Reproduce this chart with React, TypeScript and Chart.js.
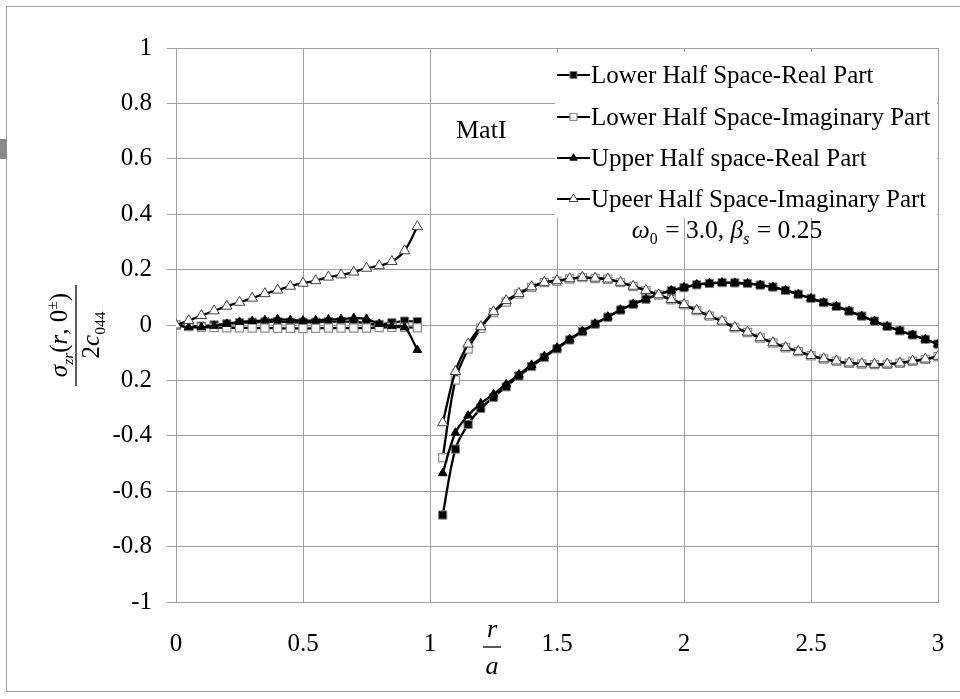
import React, { useEffect, useRef } from 'react';
import { Chart, registerables } from 'chart.js';

Chart.register(...registerables);

// ---------- data ----------
const xLeft = [0, 0.05, 0.1, 0.15, 0.2, 0.25, 0.3, 0.35, 0.4, 0.45, 0.5, 0.55, 0.6, 0.65, 0.7, 0.75, 0.8, 0.85, 0.9, 0.95];
const xRight = [1.05, 1.1, 1.15, 1.2, 1.25, 1.3, 1.35, 1.4, 1.45, 1.5, 1.55, 1.6, 1.65, 1.7, 1.75, 1.8, 1.85, 1.9, 1.95, 2.0,
  2.05, 2.1, 2.15, 2.2, 2.25, 2.3, 2.35, 2.4, 2.45, 2.5, 2.55, 2.6, 2.65, 2.7, 2.75, 2.8, 2.85, 2.9, 2.95, 3.0];

const lowerRealLeft = [0, -0.004, -0.004, 0, 0.004, 0.008, 0.01, 0.011, 0.012, 0.01, 0.01, 0.01, 0.012, 0.012, 0.012, 0.006, 0.002, 0.008, 0.014, 0.012];
const lowerImagLeft = [0, -0.006, -0.008, -0.009, -0.01, -0.01, -0.011, -0.011, -0.012, -0.012, -0.013, -0.012, -0.011, -0.011, -0.011, -0.011, -0.009, -0.008, -0.008, -0.01];
const upperRealLeft = [0, -0.008, -0.008, -0.003, 0.004, 0.011, 0.014, 0.017, 0.021, 0.018, 0.016, 0.017, 0.02, 0.021, 0.025, 0.022, 0.004, -0.004, -0.008, -0.09];
const upperImagLeft = [0, 0.016, 0.034, 0.051, 0.068, 0.082, 0.097, 0.113, 0.126, 0.14, 0.151, 0.16, 0.173, 0.181, 0.191, 0.205, 0.214, 0.229, 0.268, 0.355];

const lowerRealRight = [-0.686, -0.448, -0.359, -0.301, -0.261, -0.223, -0.184, -0.15, -0.117, -0.086, -0.054, -0.024, 0.003, 0.028, 0.054, 0.075, 0.093, 0.11, 0.124, 0.135,
  0.145, 0.15, 0.153, 0.152, 0.15, 0.144, 0.137, 0.125, 0.111, 0.096, 0.081, 0.067, 0.05, 0.032, 0.014, -0.005, -0.021, -0.036, -0.052, -0.069];
const upperRealRight = [-0.535, -0.389, -0.327, -0.283, -0.25, -0.214, -0.179, -0.144, -0.113, -0.082, -0.051, -0.022, 0.005, 0.03, 0.055, 0.076, 0.094, 0.111, 0.125, 0.136,
  0.146, 0.151, 0.153, 0.152, 0.15, 0.144, 0.137, 0.125, 0.111, 0.096, 0.081, 0.067, 0.05, 0.032, 0.014, -0.005, -0.021, -0.036, -0.052, -0.069];
const lowerImagRight = [-0.479, -0.199, -0.087, -0.012, 0.045, 0.083, 0.112, 0.136, 0.153, 0.158, 0.166, 0.171, 0.168, 0.165, 0.153, 0.139, 0.124, 0.108, 0.091, 0.073,
  0.052, 0.032, 0.013, -0.01, -0.027, -0.047, -0.065, -0.082, -0.096, -0.111, -0.123, -0.131, -0.138, -0.141, -0.143, -0.142, -0.138, -0.131, -0.124, -0.114];
const upperImagRight = [-0.353, -0.168, -0.069, -0.006, 0.048, 0.088, 0.114, 0.138, 0.154, 0.16, 0.167, 0.172, 0.169, 0.166, 0.154, 0.14, 0.125, 0.109, 0.092, 0.074,
  0.053, 0.033, 0.014, -0.009, -0.026, -0.046, -0.064, -0.081, -0.095, -0.11, -0.122, -0.13, -0.137, -0.14, -0.142, -0.141, -0.137, -0.13, -0.123, -0.113];

const seriesLabels = [
  'Lower Half Space-Real Part',
  'Lower Half Space-Imaginary Part',
  'Upper Half space-Real Part',
  'Upeer Half Space-Imaginary Part',
];

const xTickLabels = ['0', '0.5', '1', '1.5', '2', '2.5', '3'];
const yTickLabels = ['-1', '-0.8', '-0.6', '-0.4', '0.2', '0', '0.2', '0.4', '0.6', '0.8', '1'];

const annotationText = 'MatI';

// ---------- helpers ----------
const FONT = "'Liberation Serif', 'Times New Roman', serif";

type Run = { t: string; it?: boolean; sub?: boolean; sup?: boolean; gap?: number };

function runsWidth(ctx: CanvasRenderingContext2D, runs: Run[], size: number) {
  let w = 0;
  for (const r of runs) {
    const s = r.sub || r.sup ? size * 0.62 : size;
    ctx.font = `${r.it ? 'italic ' : ''}${s}px ${FONT}`;
    w += ctx.measureText(r.t).width + (r.gap || 0);
  }
  return w;
}

function drawRuns(ctx: CanvasRenderingContext2D, runs: Run[], x: number, y: number, size: number, center: boolean) {
  const w = runsWidth(ctx, runs, size);
  let cx = center ? x - w / 2 : x;
  ctx.textAlign = 'left';
  ctx.textBaseline = 'alphabetic';
  ctx.fillStyle = '#000';
  for (const r of runs) {
    const s = r.sub || r.sup ? size * 0.62 : size;
    ctx.font = `${r.it ? 'italic ' : ''}${s}px ${FONT}`;
    const dy = r.sub ? size * 0.22 : r.sup ? -size * 0.4 : 0;
    ctx.fillText(r.t, cx, y + dy);
    cx += ctx.measureText(r.t).width + (r.gap || 0);
  }
  return w;
}

function drawMarker(ctx: CanvasRenderingContext2D, style: string, x: number, y: number, r: number, fill: string, stroke: string, lw: number) {
  ctx.save();
  ctx.beginPath();
  if (style === 'rect') {
    const s = Math.SQRT1_2 * r;
    ctx.rect(x - s, y - s, 2 * s, 2 * s);
  } else {
    const h = r * 1.5;
    const half = r * Math.sqrt(3) / 2;
    ctx.moveTo(x, y - r);
    ctx.lineTo(x + half, y - r + h);
    ctx.lineTo(x - half, y - r + h);
    ctx.closePath();
  }
  ctx.fillStyle = fill;
  ctx.fill();
  ctx.lineWidth = lw;
  ctx.strokeStyle = stroke;
  ctx.stroke();
  ctx.restore();
}

function buildPoints(left: number[], right: number[]) {
  const pts: { x: number; y: number | null }[] = [];
  left.forEach((v, i) => pts.push({ x: xLeft[i], y: v }));
  pts.push({ x: 1, y: null });
  right.forEach((v, i) => pts.push({ x: xRight[i], y: v }));
  return pts;
}

const styles = [
  { pointStyle: 'rect', radius: 5.8, bg: '#000000', border: '#808080', bw: 1 },
  { pointStyle: 'rect', radius: 5.8, bg: '#ffffff', border: '#8c8c8c', bw: 1.2 },
  { pointStyle: 'triangle', radius: 5, bg: '#000000', border: '#000000', bw: 1 },
  { pointStyle: 'triangle', radius: 6, bg: '#ffffff', border: '#404040', bw: 1 },
];

const decorPlugin = {
  id: 'decor',
  beforeDraw(chart: any) {
    const ctx = chart.ctx as CanvasRenderingContext2D;
    ctx.save();
    ctx.fillStyle = '#ffffff';
    ctx.fillRect(0, 0, chart.width, chart.height);
    ctx.strokeStyle = '#a0a0a0';
    ctx.lineWidth = 1;
    ctx.strokeRect(6.5, 6.5, chart.width + 10, 685);
    ctx.fillStyle = '#8a8a8a';
    ctx.fillRect(0, 139, 7, 20);
    ctx.restore();
  },
  afterDraw(chart: any) {
    const ctx = chart.ctx as CanvasRenderingContext2D;
    ctx.save();
    // legend box
    ctx.fillStyle = '#ffffff';
    ctx.fillRect(555, 52, 382, 166);
    const rows = [75, 117, 158, 199];
    chart.data.datasets.forEach((ds: any, i: number) => {
      const y = rows[i];
      ctx.strokeStyle = '#000';
      ctx.lineWidth = 2;
      ctx.beginPath();
      ctx.moveTo(557, y);
      ctx.lineTo(590, y);
      ctx.stroke();
      const st = styles[i];
      drawMarker(ctx, st.pointStyle, 573.5, y, st.radius * 0.85, st.bg, st.border, st.bw);
      ctx.fillStyle = '#000';
      ctx.font = `25px ${FONT}`;
      ctx.textAlign = 'left';
      ctx.textBaseline = 'middle';
      ctx.fillText(ds.label, 591, y + 1);
    });
    // MatI
    ctx.font = `26px ${FONT}`;
    ctx.fillStyle = '#000';
    ctx.textAlign = 'left';
    ctx.textBaseline = 'middle';
    ctx.fillText(annotationText, 456, 131);
    // omega / beta annotation
    drawRuns(ctx, [
      { t: 'ω', it: true }, { t: '0', sub: true, gap: 1 }, { t: ' = 3.0, ' },
      { t: 'β', it: true }, { t: 's', it: true, sub: true, gap: 1 }, { t: ' = 0.25' },
    ], 727, 238, 25.5, true);
    // x title r / a
    drawRuns(ctx, [{ t: 'r', it: true }], 492, 637, 26, true);
    ctx.strokeStyle = '#000';
    ctx.lineWidth = 1.3;
    ctx.beginPath();
    ctx.moveTo(483, 647);
    ctx.lineTo(501, 647);
    ctx.stroke();
    drawRuns(ctx, [{ t: 'a', it: true }], 492, 674, 26, true);
    // y title
    ctx.save();
    ctx.translate(76, 335);
    ctx.rotate(-Math.PI / 2);
    drawRuns(ctx, [
      { t: 'σ', it: true }, { t: 'zr', it: true, sub: true }, { t: '(' }, { t: 'r', it: true },
      { t: ', ' }, { t: '0' }, { t: '±', sup: true }, { t: ')' },
    ], 0, -9, 25, true);
    ctx.strokeStyle = '#000';
    ctx.lineWidth = 1.3;
    ctx.beginPath();
    ctx.moveTo(-51, 0);
    ctx.lineTo(50, 0);
    ctx.stroke();
    drawRuns(ctx, [{ t: '2' }, { t: 'c', it: true }, { t: '044', sub: true }], 0, 23, 25, true);
    ctx.restore();
    ctx.restore();
  },
};

export default function App() {
  const ref = useRef<HTMLCanvasElement | null>(null);
  useEffect(() => {
    document.body.style.margin = '0';
    if (!ref.current) return;
    const datasets = [
      { label: seriesLabels[0], data: buildPoints(lowerRealLeft, lowerRealRight), order: 4 },
      { label: seriesLabels[1], data: buildPoints(lowerImagLeft, lowerImagRight), order: 3 },
      { label: seriesLabels[2], data: buildPoints(upperRealLeft, upperRealRight), order: 2 },
      { label: seriesLabels[3], data: buildPoints(upperImagLeft, upperImagRight), order: 1 },
    ].map((d, i) => ({
      ...d,
      borderColor: '#000000',
      borderWidth: 2.3,
      tension: 0.35,
      spanGaps: false,
      pointStyle: styles[i].pointStyle,
      pointRadius: styles[i].radius,
      pointBackgroundColor: styles[i].bg,
      pointBorderColor: styles[i].border,
      pointBorderWidth: styles[i].bw,
      fill: false,
    }));
    const chart = new Chart(ref.current, {
      type: 'line',
      data: { datasets: datasets as any },
      plugins: [decorPlugin],
      options: {
        animation: false,
        responsive: true,
        maintainAspectRatio: false,
        layout: { padding: { top: 48, right: 22, left: 0, bottom: 0 } },
        plugins: { legend: { display: false }, tooltip: { enabled: false } },
        scales: {
          x: {
            type: 'linear',
            min: 0,
            max: 3,
            afterFit: (s: any) => { s.height = 97; s.paddingLeft = 0; s.paddingRight = 0; },
            ticks: {
              stepSize: 0.5,
              color: '#000',
              padding: 27,
              maxRotation: 0,
              font: { family: FONT, size: 25 },
              callback: (_v: any, i: number) => xTickLabels[i],
            },
            grid: { color: '#a0a0a0', lineWidth: 1, drawTicks: false },
            border: { color: '#a0a0a0', width: 1 },
          },
          y: {
            type: 'linear',
            min: -1,
            max: 1,
            afterFit: (s: any) => { s.width = 176; },
            ticks: {
              stepSize: 0.2,
              color: '#000',
              padding: 15,
              font: { family: FONT, size: 25 },
              callback: (_v: any, i: number) => yTickLabels[i],
            },
            grid: { color: '#a0a0a0', lineWidth: 1, tickLength: 9 },
            border: { color: '#a0a0a0', width: 1 },
          },
        },
      },
    });
    return () => chart.destroy();
  }, []);
  return (
    <div style={{ position: 'relative', width: 960, height: 699 }}>
      <canvas ref={ref} />
    </div>
  );
}
